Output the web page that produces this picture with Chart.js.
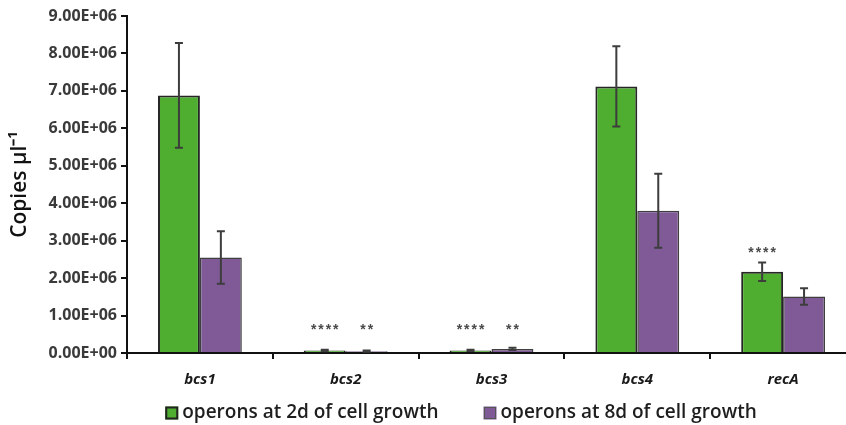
<!DOCTYPE html>
<html><head><meta charset="utf-8">
<script src="https://cdn.jsdelivr.net/npm/chart.js@4/dist/chart.umd.min.js"></script>
<style>
html,body{margin:0;padding:0;overflow:hidden;background:#fff;width:846px;height:425px}
#wrap{position:relative;width:870px;height:425px}
</style></head>
<body><div id="wrap"><canvas id="c" width="870" height="425"></canvas></div>
<script>
const categories = ['bcs1', 'bcs2', 'bcs3', 'bcs4', 'recA'];
const seriesNames = ['operons at 2d of cell growth', 'operons at 8d of cell growth'];
const day2Values = [6880000, 70000, 70000, 7120000, 2170000];
const day2Errors = [1400000, 20000, 15000, 1070000, 250000];
const day8Values = [2550000, 50000, 110000, 3800000, 1510000];
const day8Errors = [700000, 15000, 30000, 990000, 220000];
const day2Stars = ['', '****', '****', '', '****'];
const day8Stars = ['', '**', '**', '', ''];
const yTickLabels = ['0.00E+00', '1.00E+06', '2.00E+06', '3.00E+06', '4.00E+06', '5.00E+06', '6.00E+06', '7.00E+06', '8.00E+06', '9.00E+06'];
const yTickValues = [0, 1e6, 2e6, 3e6, 4e6, 5e6, 6e6, 7e6, 8e6, 9e6];

const GREEN = '#4FAE2F';
const PURPLE = '#7F5A97';
const errors = [day2Errors, day8Errors];
const stars = [day2Stars, day8Stars];

const errorBarPlugin = {
  id: 'errorBars',
  afterDatasetsDraw(chart) {
    const ctx = chart.ctx, ys = chart.scales.y;
    ctx.save();
    ctx.strokeStyle = '#3d3d3d';
    ctx.lineWidth = 2;
    chart.data.datasets.forEach((ds, di) => {
      const meta = chart.getDatasetMeta(di);
      meta.data.forEach((el, i) => {
        const v = ds.data[i], e = errors[di][i];
        const yt = ys.getPixelForValue(v + e), yb = ys.getPixelForValue(v - e);
        ctx.beginPath();
        ctx.moveTo(el.x, yt); ctx.lineTo(el.x, yb);
        ctx.moveTo(el.x - 4, yt); ctx.lineTo(el.x + 4, yt);
        ctx.moveTo(el.x - 4, yb); ctx.lineTo(el.x + 4, yb);
        ctx.stroke();
      });
    });
    // significance stars
    ctx.fillStyle = '#4a4a4a';
    ctx.font = 'bold 14px "Liberation Sans", Arial, sans-serif';
    ctx.textAlign = 'center';
    ctx.textBaseline = 'middle';
    const step = 7.4;
    chart.data.datasets.forEach((ds, di) => {
      const meta = chart.getDatasetMeta(di);
      meta.data.forEach((el, i) => {
        const s = stars[di][i];
        if (!s) return;
        const v = ds.data[i], e = errors[di][i];
        const y = Math.min(ys.getPixelForValue(v + e) - 13, ys.getPixelForValue(0) - 27);
        const n = s.length;
        for (let k = 0; k < n; k++) {
          ctx.fillText('*', el.x + (k - (n - 1) / 2) * step, y + 4);
        }
      });
    });
    ctx.restore();
  }
};

const legendPlugin = {
  id: 'customLegend',
  afterDraw(chart) {
    const ctx = chart.ctx;
    ctx.save();
    ctx.font = '600 19px "Open Sans", sans-serif';
    ctx.textBaseline = 'middle';
    ctx.textAlign = 'left';
    const box = 13, gap = 4, itemGap = 45;
    const widths = seriesNames.map(n => ctx.measureText(n).width);
    const total = widths.reduce((a, b) => a + b, 0) + 2 * (box + gap) + itemGap;
    let x = chart.chartArea.left + 334 - total / 2;
    const y = 413;
    const fills = [GREEN, PURPLE];
    const borders = ['#222', '#555'];
    seriesNames.forEach((n, i) => {
      ctx.fillStyle = fills[i];
      ctx.fillRect(x, y - box / 2, box, box);
      ctx.strokeStyle = borders[i];
      ctx.lineWidth = i === 0 ? 2 : 1;
      ctx.strokeRect(x + 1, y - box / 2 + 1, box - 2, box - 2);
      ctx.fillStyle = '#1e1e1e';
      ctx.fillText(n, x + box + gap, y);
      x += box + gap + widths[i] + itemGap;
    });
    ctx.restore();
  }
};

new Chart(document.getElementById('c'), {
  type: 'bar',
  data: {
    labels: categories,
    datasets: [
      { label: seriesNames[0], data: day2Values, backgroundColor: GREEN, borderColor: '#262626', borderWidth: 2, barPercentage: 1, categoryPercentage: 0.575 },
      { label: seriesNames[1], data: day8Values, backgroundColor: PURPLE, borderColor: '#3f3f3f', borderWidth: 1.5, barPercentage: 1, categoryPercentage: 0.575 }
    ]
  },
  options: {
    responsive: false,
    animation: false,
    devicePixelRatio: 1,
    layout: { padding: { left: 0, right: 14, top: 16, bottom: 32 } },
    plugins: { legend: { display: false }, tooltip: { enabled: false } },
    scales: {
      x: {
        grid: { display: true, drawOnChartArea: false, offset: true, tickLength: 6, color: '#111', lineWidth: 2 },
        border: { display: true, color: '#111', width: 2 },
        ticks: { color: '#1a1a1a', padding: 12, font: { family: '"Open Sans", sans-serif', size: 15, weight: 'bold', style: 'italic' } },
        afterFit(s) { s.height = 40; }
      },
      y: {
        min: 0, max: 9e6,
        afterBuildTicks(s) { s.ticks = yTickValues.map(v => ({ value: v })); },
        grid: { display: true, drawOnChartArea: false, tickLength: 6, color: '#111', lineWidth: 2 },
        border: { display: true, color: '#111', width: 2 },
        ticks: {
          color: '#3a3a3a', padding: 4,
          font: { family: '"Open Sans", sans-serif', size: 16, weight: 'bold' },
          callback(v) { return yTickLabels[yTickValues.indexOf(v)]; }
        },
        title: { display: true, text: 'Copies µl⁻¹', color: '#111', padding: { top: 7, bottom: 0 }, font: { family: '"Open Sans", sans-serif', size: 21, weight: '600' } },
        afterFit(s) { s.width = 127; }
      }
    }
  },
  plugins: [errorBarPlugin, legendPlugin]
});
</script>
</body></html>
